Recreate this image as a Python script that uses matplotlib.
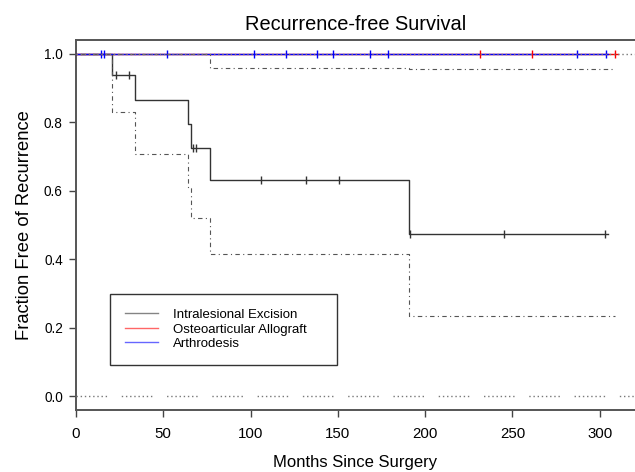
import numpy as np
import matplotlib
matplotlib.use("Agg")
import matplotlib.pyplot as plt

plt.rcParams['font.family'] = ['Liberation Sans', 'DejaVu Sans']

# ---------------- data ----------------
# Intralesional Excision: Kaplan-Meier steps
ie_times = [0, 20.5, 33.7, 64.0, 66.0, 77.0, 191.0]
ie_surv = [1.0, 0.938, 0.865, 0.794, 0.725, 0.632, 0.474]
ie_end = 304.8
ie_censor = [23.0, 30.6, 66.9, 68.8, 105.8, 131.8, 150.9, 191.6, 245.2, 302.9]
# confidence band of Intralesional Excision
ie_lower = [1.0, 0.830, 0.707, 0.607, 0.520, 0.415, 0.234]
ie_upper = [1.0, 1.0, 1.0, 1.0, 1.0, 0.958, 0.954]
ie_ci_end = 309.0

# Osteoarticular Allograft (no events)
oa_times = [0]
oa_surv = [1.0]
oa_end = 310.5
oa_censor = [231.6, 261.0, 309.0]

# Arthrodesis (no events)
ar_times = [0]
ar_surv = [1.0]
ar_end = 304.5
ar_censor = [14.6, 15.8, 51.9, 101.9, 120.4, 137.8, 147.0, 168.7, 178.9, 287.2, 303.7]

# confidence limits of groups without events
flat_ci_levels = [1.0, 0.0]
flat_ci_end = 322.0

labels = ["Intralesional Excision", "Osteoarticular Allograft", "Arthrodesis"]
colors = ["#333333", "#ff0000", "#0000ff"]
x_ticks = [0, 50, 100, 150, 200, 250, 300]
y_ticks = [0.0, 0.2, 0.4, 0.6, 0.8, 1.0]


def step_xy(times, vals, end):
    x = list(times) + [end]
    y = list(vals) + [vals[-1]]
    return x, y


def step_at(times, vals, t):
    idx = np.searchsorted(np.asarray(times), np.asarray(t), side='right') - 1
    return np.asarray(vals)[idx]


fig = plt.figure(figsize=(6.35, 4.72), dpi=100)
W, H = 635, 472
ax = fig.add_axes([76 / W, (H - 410) / H, (W - 76) / W, (410 - 40) / H])

groups = [
    (ie_times, ie_surv, ie_end, ie_censor),
    (oa_times, oa_surv, oa_end, oa_censor),
    (ar_times, ar_surv, ar_end, ar_censor),
]
handles = []
for (t, s, e, c), col, lab in zip(groups, colors, labels):
    x, y = step_xy(t, s, e)
    ln, = ax.step(x, y, where='post', color=col, lw=1.0, label=lab, zorder=3)
    ax.plot(c, step_at(t, s, c), ls='none', marker='|', ms=5.5, mew=1.0,
            color=col, zorder=4)
    handles.append(ln)

# confidence limits (drawn on top like R)
dashdot = (0, (1, 3, 4, 3))
for band in (ie_lower, ie_upper):
    x, y = step_xy(ie_times, band, ie_ci_end)
    ax.step(x, y, where='post', color='#555555', lw=0.8, ls=dashdot, zorder=5)

gapped_dots = (0, [1, 2] * 7 + [1, 10.6])
ax.plot([0, flat_ci_end], [flat_ci_levels[0]] * 2, color='#777777', lw=1.0,
        ls=(0, (1, 2)), zorder=5)
ax.plot([0, flat_ci_end], [flat_ci_levels[1]] * 2, color='#777777', lw=1.0,
        ls=gapped_dots, zorder=5)

ax.set_xlim(0, (W - 76.5) / 1.744)
ax.set_ylim(-0.04, 1.04)
ax.set_xticks(x_ticks)
ax.set_xticklabels([str(v) for v in x_ticks])
ax.set_yticks(y_ticks)
ax.set_yticklabels([f"{v:.1f}" for v in y_ticks])
ax.tick_params(axis='x', length=5, width=1.0, color='#444444', labelsize=10.8, pad=7)
ax.tick_params(axis='y', length=5, width=1.0, color='#444444', labelsize=9.8, pad=4.5)
for sp in ('left', 'bottom', 'top'):
    ax.spines[sp].set_color('#555555')
    ax.spines[sp].set_linewidth(1.4)
ax.spines['right'].set_visible(False)

ax.set_title("Recurrence-free Survival", fontsize=14.4, pad=7)
ax.set_xlabel("Months Since Surgery", fontsize=12.0, labelpad=10)
ax.set_ylabel("Fraction Free of Recurrence", fontsize=13.2, labelpad=8)

leg = ax.legend(handles=handles, labels=labels, loc='upper left',
                bbox_to_anchor=((110 - 76) / 559, (410 - 293.7) / 370, (337.3 - 110) / 559, 0.0),
                mode='expand', borderaxespad=0, fancybox=False, framealpha=1,
                edgecolor='#333333', fontsize=9.5, handlelength=2.5,
                handletextpad=1.1, labelspacing=0.17, borderpad=1.15)
leg.get_frame().set_linewidth(1.0)
for h in leg.legend_handles:
    h.set_alpha(0.6)

fig.savefig("out.png", dpi=100)
